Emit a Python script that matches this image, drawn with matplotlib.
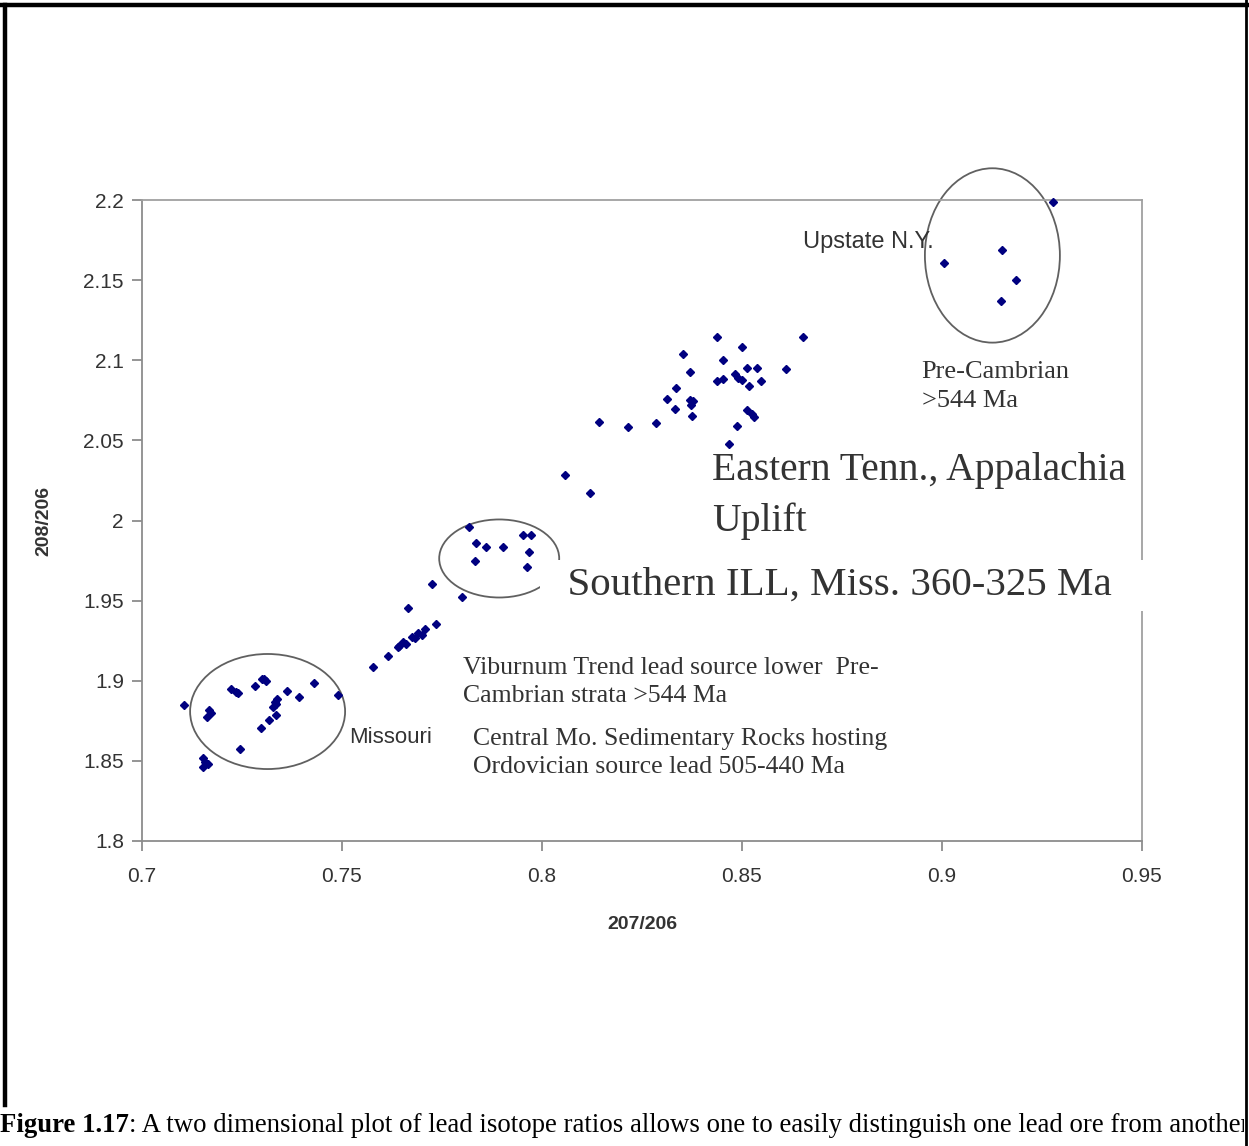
import matplotlib
matplotlib.use('Agg')
import matplotlib.pyplot as plt
from matplotlib.patches import Ellipse
from matplotlib.lines import Line2D
from matplotlib.transforms import Bbox

# Missouri group
mo_x = [0.7106, 0.7168, 0.7173, 0.7163, 0.7223, 0.7235, 0.7241, 0.7283, 0.7299, 0.7306,
        0.7309, 0.7333, 0.7337, 0.7335, 0.7328, 0.7335, 0.7318, 0.7298, 0.7362, 0.7393,
        0.7431, 0.7491, 0.7245, 0.7153, 0.7158, 0.7166, 0.7152]
mo_y = [1.8849, 1.8816, 1.8800, 1.8775, 1.8948, 1.8931, 1.8921, 1.8968, 1.9014, 1.9008,
        1.8998, 1.8869, 1.8883, 1.8854, 1.8837, 1.8789, 1.8754, 1.8708, 1.8937, 1.8900,
        1.8983, 1.8910, 1.8572, 1.8515, 1.8494, 1.8480, 1.8463]

# Viburnum trend / central Mo.
vib_x = [0.7577, 0.7616, 0.7641, 0.7643, 0.7653, 0.7660, 0.7674, 0.7683, 0.7691, 0.7700,
         0.7708, 0.7734, 0.7666, 0.7724, 0.7799]
vib_y = [1.9087, 1.9154, 1.9212, 1.9216, 1.9243, 1.9230, 1.9274, 1.9265, 1.9295, 1.9285,
         1.9326, 1.9354, 1.9451, 1.9604, 1.9520]

# Southern ILL
ill_x = [0.7818, 0.7835, 0.7860, 0.7903, 0.7952, 0.7972, 0.7968, 0.7833, 0.7962]
ill_y = [1.9957, 1.9857, 1.9836, 1.9836, 1.9909, 1.9909, 1.9806, 1.9748, 1.9707]

# Eastern Tenn.
tn_x = [0.8058, 0.8119, 0.8143, 0.8216, 0.8285, 0.8335, 0.8313, 0.8333, 0.8353, 0.8370,
        0.8370, 0.8378, 0.8372, 0.8374, 0.8437, 0.8453, 0.8499, 0.8437, 0.8453, 0.8483,
        0.8491, 0.8499, 0.8512, 0.8538, 0.8518, 0.8548, 0.8512, 0.8524, 0.8530, 0.8487,
        0.8467, 0.8609, 0.8653]
tn_y = [2.0284, 2.0173, 2.0616, 2.0585, 2.0606, 2.0824, 2.0761, 2.0693, 2.1036, 2.0924,
        2.0752, 2.0746, 2.0721, 2.0654, 2.1142, 2.1001, 2.1084, 2.0872, 2.0880, 2.0917,
        2.0892, 2.0876, 2.0953, 2.0953, 2.0840, 2.0872, 2.0689, 2.0662, 2.0647, 2.0590,
        2.0477, 2.0945, 2.1142]

# Upstate N.Y.
ny_x = [0.9278, 0.9151, 0.9006, 0.9184, 0.9147]
ny_y = [2.1986, 2.1688, 2.1604, 2.1501, 2.1372]

x_ticks = [0.7, 0.75, 0.8, 0.85, 0.9, 0.95]
x_tick_labels = ['0.7', '0.75', '0.8', '0.85', '0.9', '0.95']
y_ticks = [1.8, 1.85, 1.9, 1.95, 2.0, 2.05, 2.1, 2.15, 2.2]
y_tick_labels = ['1.8', '1.85', '1.9', '1.95', '2', '2.05', '2.1', '2.15', '2.2']

sans = 'Liberation Sans'
serif = 'Liberation Serif'
axis_grey = '#8c8c8c'
navy = '#000080'
txt = '#333333'

fig = plt.figure(figsize=(12.49, 11.46), dpi=100)
ax = fig.add_axes([142 / 1249, 1 - 841 / 1146, 1000 / 1249, 641 / 1146])

for xs, ys in [(mo_x, mo_y), (vib_x, vib_y), (ill_x, ill_y), (tn_x, tn_y), (ny_x, ny_y)]:
    ax.plot(xs, ys, linestyle='none', marker='D', markersize=4.5, color=navy, clip_on=False, zorder=3)

ax.set_xlim(0.7, 0.95)
ax.set_ylim(1.8, 2.2)
ax.set_xticks(x_ticks)
ax.set_xticklabels(x_tick_labels, fontfamily=sans, fontsize=15, color=txt)
ax.set_yticks(y_ticks)
ax.set_yticklabels(y_tick_labels, fontfamily=sans, fontsize=15, color=txt)
ax.tick_params(axis='both', direction='out', length=7, width=1.3, color=axis_grey)
ax.tick_params(axis='x', pad=12)
ax.tick_params(axis='y', pad=6)
for s in ax.spines.values():
    s.set_color('#a0a0a0')
    s.set_linewidth(1.3)
ax.spines['left'].set_color(axis_grey)
ax.spines['bottom'].set_color(axis_grey)

ax.set_xlabel('207/206', fontfamily=sans, fontsize=14, fontweight='bold', color=txt, labelpad=21)
ax.set_ylabel('208/206', fontfamily=sans, fontsize=14, fontweight='bold', color=txt, labelpad=22)

# circles around the groups
ell_color = '#606060'
ax.add_patch(Ellipse((0.7314, 1.8808), 0.03875, 0.0718, fill=False, edgecolor=ell_color, lw=1.3, zorder=2))
ax.add_patch(Ellipse((0.7893, 1.9763), 0.0300, 0.0487, fill=False, edgecolor=ell_color, lw=1.3, zorder=2))
ax.add_patch(Ellipse((0.9126, 2.1654), 0.03375, 0.1088, fill=False, edgecolor=ell_color, lw=1.3,
                     zorder=2, clip_on=False))

# annotations
ax.text(0.8653, 2.174, 'Upstate N.Y.', fontfamily=sans, fontsize=17, color=txt, ha='left', va='center')
ax.text(0.8949, 2.0836, 'Pre-Cambrian\n>544 Ma', fontfamily=serif, fontsize=19, color=txt,
        ha='left', va='center', linespacing=1.45)
ax.text(0.8425, 2.0153, 'Eastern Tenn., Appalachia\nUplift', fontfamily=serif, fontsize=28.5, color=txt,
        ha='left', va='center', linespacing=1.45, zorder=4)
# white box behind this label hides part of the circle and the right frame line
ax.text(0.80125, 1.9597, '  Southern ILL, Miss. 360-325 Ma     ', fontfamily=serif, fontsize=29.5, color=txt,
        ha='left', va='center', zorder=4, clip_on=False,
        bbox=dict(facecolor='white', edgecolor='none', pad=5))
ax.text(0.7803, 1.8992, 'Viburnum Trend lead source lower  Pre-\nCambrian strata >544 Ma', fontfamily=serif,
        fontsize=18.5, color=txt, ha='left', va='center', linespacing=1.35)
ax.text(0.7828, 1.8552, 'Central Mo. Sedimentary Rocks hosting\nOrdovician source lead 505-440 Ma',
        fontfamily=serif, fontsize=18.5, color=txt, ha='left', va='center', linespacing=1.35)
ax.text(0.7518, 1.8643, 'Missouri', fontfamily=sans, fontsize=16, color=txt, ha='left', va='center')

# page frame and caption
fig.add_artist(Line2D([4.5 / 1249, 4.5 / 1249], [1 - 1105 / 1146, 1 - 4.5 / 1146], color='black', lw=3.2,
                      transform=fig.transFigure))
fig.add_artist(Line2D([0, 1], [1 - 4.5 / 1146, 1 - 4.5 / 1146], color='black', lw=3.2,
                      transform=fig.transFigure))
fig.add_artist(Line2D([1246 / 1249, 1246 / 1249], [0, 1], color='black', lw=2,
                      transform=fig.transFigure))

cap_y = 1 - 1126 / 1146
bold_part = fig.text(0.0, cap_y, 'Figure 1.17', fontfamily=serif, fontweight='bold', fontsize=19.3,
                     va='center', ha='left')
renderer = fig.canvas.get_renderer()
bb = bold_part.get_window_extent(renderer)
rest = fig.text(bb.x1 / fig.bbox.width, cap_y,
                ': A two dimensional plot of lead isotope ratios allows one to easily distinguish one lead ore from another',
                fontfamily=serif, fontsize=19.3, va='center', ha='left')
rest.set_clip_box(Bbox([[0, 0], [1244, 1146]]))
rest.set_clip_on(True)

fig.savefig('out.png', dpi=100)
